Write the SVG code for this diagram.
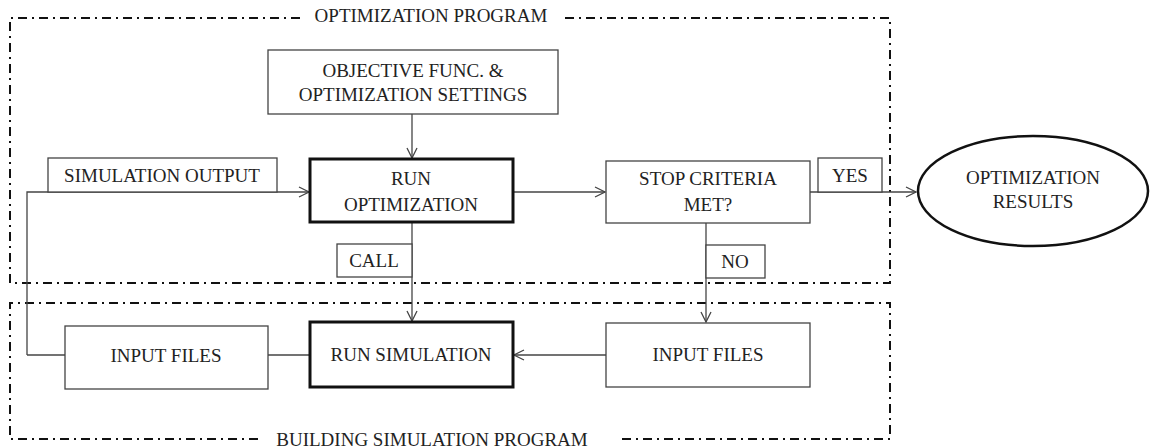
<svg xmlns="http://www.w3.org/2000/svg" width="1153" height="448" viewBox="0 0 1153 448">
<style>
text{font-family:"Liberation Serif","Times New Roman",serif;font-size:19px;fill:#222;text-anchor:middle}
.box{fill:#fff;stroke:#444;stroke-width:1.3}
.thick{fill:#fff;stroke:#111;stroke-width:3}
.conn{fill:none;stroke:#444;stroke-width:1.3}
.frame{fill:none;stroke:#111;stroke-width:2;stroke-dasharray:9 5 2 5}
</style>
<defs>
<marker id="arr" markerWidth="12" markerHeight="12" refX="11" refY="6" orient="auto" markerUnits="userSpaceOnUse">
<path d="M1,1 L11,6 L1,11" fill="none" stroke="#444" stroke-width="1.3"/>
</marker>
</defs>
<rect width="1153" height="448" fill="#fff"/>
<g id="frame-optimization">
<path class="frame" d="M300,18 L10,18 L10,283 L890,283 L890,18 L565,18"/>
<text x="431" y="22">OPTIMIZATION PROGRAM</text>
</g>
<g id="frame-building">
<path class="frame" d="M258,439 L10,439 L10,303 L890,303 L890,439 L617,439"/>
<text x="432" y="446">BUILDING SIMULATION PROGRAM</text>
</g>
<g id="connectors">
<path class="conn" d="M412,114 L412,158" marker-end="url(#arr)"/>
<path class="conn" d="M27,355 L27,192 L309,192" marker-end="url(#arr)"/>
<path class="conn" d="M27,355 L65,355"/>
<path class="conn" d="M268,355 L310,355"/>
<path class="conn" d="M513,192 L605,192" marker-end="url(#arr)"/>
<path class="conn" d="M810,192 L916,192" marker-end="url(#arr)"/>
<path class="conn" d="M412,222 L412,321" marker-end="url(#arr)"/>
<path class="conn" d="M706,223 L706,322" marker-end="url(#arr)"/>
<path class="conn" d="M606,355 L514,355" marker-end="url(#arr)"/>
</g>
<g id="objective">
<rect class="box" x="268" y="50" width="290" height="64"/>
<text x="413" y="77">OBJECTIVE FUNC. &amp;</text>
<text x="413" y="101">OPTIMIZATION SETTINGS</text>
</g>
<g id="run-optimization">
<rect class="thick" x="310" y="159" width="203" height="63"/>
<text x="411" y="185">RUN</text>
<text x="411" y="211">OPTIMIZATION</text>
</g>
<g id="stop-criteria">
<rect class="box" x="606" y="161" width="204" height="62"/>
<text x="708" y="185">STOP CRITERIA</text>
<text x="708" y="211">MET?</text>
</g>
<g id="label-sim-output">
<rect class="box" x="48" y="158" width="229" height="34"/>
<text x="162" y="182">SIMULATION OUTPUT</text>
</g>
<g id="label-yes">
<rect class="box" x="818" y="158" width="64" height="34"/>
<text x="850" y="182">YES</text>
</g>
<g id="label-call">
<rect class="box" x="337" y="244" width="75" height="33"/>
<text x="374" y="267">CALL</text>
</g>
<g id="label-no">
<rect class="box" x="706" y="245" width="59" height="33"/>
<text x="735" y="268">NO</text>
</g>
<g id="optimization-results">
<ellipse cx="1033" cy="191" rx="115" ry="55" fill="#fff" stroke="#111" stroke-width="2.5"/>
<text x="1033" y="184">OPTIMIZATION</text>
<text x="1033" y="208">RESULTS</text>
</g>
<g id="input-files-left">
<rect class="box" x="65" y="326" width="203" height="63"/>
<text x="166" y="362">INPUT FILES</text>
</g>
<g id="run-simulation">
<rect class="thick" x="310" y="322" width="203" height="65"/>
<text x="411" y="361">RUN SIMULATION</text>
</g>
<g id="input-files-right">
<rect class="box" x="606" y="323" width="204" height="64"/>
<text x="708" y="361">INPUT FILES</text>
</g>
</svg>
